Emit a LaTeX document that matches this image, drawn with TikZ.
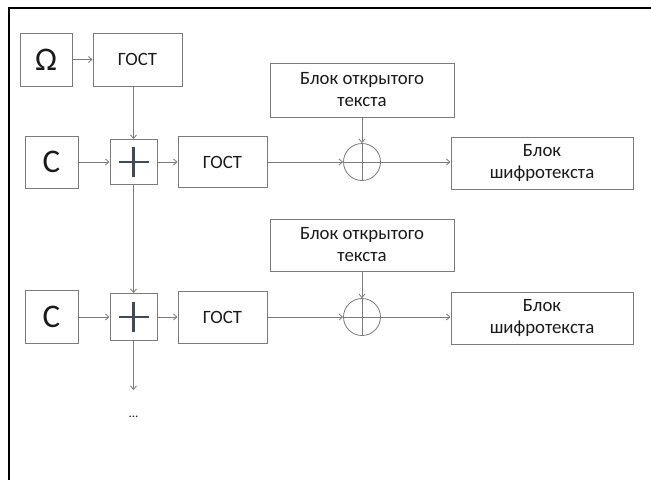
\documentclass[tikz,border=0pt]{standalone}
\usepackage{fontspec}
\setmainfont{Carlito}
\usetikzlibrary{arrows.meta}
\definecolor{edge}{HTML}{7A7A7A}
\definecolor{ink}{HTML}{1A1A1A}
\definecolor{plusink}{HTML}{3E4B5C}
\begin{document}
\begin{tikzpicture}[x=1pt,y=-1pt,
  box/.style={draw=edge,line width=1pt,inner sep=0pt,text=ink,font=\fontsize{18.8}{22}\selectfont,align=center},
  bigsym/.style={box,font=\fontsize{33}{36}\selectfont},
  xorc/.style={draw=edge,line width=0.8pt,circle,minimum size=37pt,inner sep=0pt},
  flow/.style={draw=edge,line width=0.8pt,-{Straight Barb[length=3.5pt,width=6pt]}}]
\useasboundingbox (0,0) rectangle (651,480);
% page frame: top and left edges only
\draw[line width=2pt] (9,480) -- (9,8) -- (651,8);

% key generation
\node[bigsym,minimum width=52pt,minimum height=53pt] (om) at (46,59.5) {Ω};
\node[box,minimum width=89pt,minimum height=53pt] (g0) at (137.5,59.5) {ГОСТ};

% first row
\node[bigsym,minimum width=53pt,minimum height=52pt] (c1) at (51.5,162) {C};
\node[box,minimum width=47pt,minimum height=45pt] (p1) at (133.5,162) {};
\node[box,minimum width=89pt,minimum height=51pt] (g1) at (222.5,162) {ГОСТ};
\node[xorc] (x1) at (362,162) {};
\node[box,minimum width=184pt,minimum height=54pt] (t1) at (362,90) {Блок открытого\\текста};
\node[box,minimum width=182pt,minimum height=52pt] (k1) at (542,163) {Блок\\шифротекста};

% second row
\node[bigsym,minimum width=53pt,minimum height=53pt] (c2) at (51.5,317) {C};
\node[box,minimum width=47pt,minimum height=47pt] (p2) at (133.5,317) {};
\node[box,minimum width=89pt,minimum height=52pt] (g2) at (222.5,317) {ГОСТ};
\node[xorc] (x2) at (362,317) {};
\node[box,minimum width=184pt,minimum height=52pt] (t2) at (362,245) {Блок открытого\\текста};
\node[box,minimum width=182pt,minimum height=52pt] (k2) at (542,318) {Блок\\шифротекста};

\coordinate (more) at (133.5,390);
\node[text=ink,font=\fontsize{13}{15}\selectfont] (dots) at (133.5,417) {...};

% adder and XOR symbols
\foreach \p in {p1,p2}{
  \draw[plusink,line width=2.2pt] ([xshift=-15pt]\p.center) -- ([xshift=15pt]\p.center);
  \draw[plusink,line width=2.2pt] ([yshift=-15pt]\p.center) -- ([yshift=15pt]\p.center);
}
\foreach \x in {x1,x2}{
  \draw[edge,line width=0.8pt] (\x.west) -- (\x.east);
  \draw[edge,line width=0.8pt] (\x.north) -- (\x.south);
}

% connectors
\draw[flow] (om.east) -- (g0.west);
\draw[flow] (p1.north |- g0.south) -- (p1.north);
\draw[flow] (c1.east) -- (p1.west);
\draw[flow] (p1.east) -- (g1.west);
\draw[flow] (g1.east) -- (x1.west);
\draw[flow] (t1.south) -- (x1.north);
\draw[flow] (x1.east) -- (k1.west |- x1.east);
\draw[flow] (p1.south) -- (p2.north);
\draw[flow] (c2.east) -- (p2.west);
\draw[flow] (p2.east) -- (g2.west);
\draw[flow] (g2.east) -- (x2.west);
\draw[flow] (t2.south) -- (x2.north);
\draw[flow] (x2.east) -- (k2.west |- x2.east);
\draw[flow] (p2.south) -- (more);
\end{tikzpicture}
\end{document}
